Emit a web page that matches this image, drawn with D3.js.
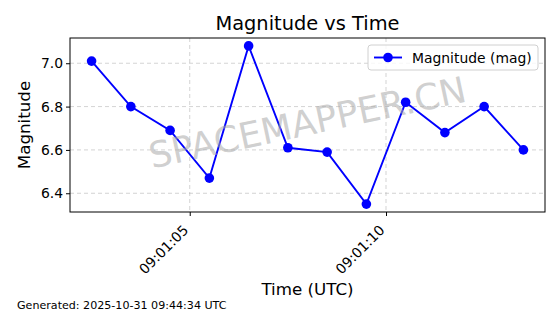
<!DOCTYPE html>
<html><head><meta charset="utf-8">
<script src="https://cdn.jsdelivr.net/npm/d3@7"></script>
<style>body{margin:0;background:#fff}svg{display:block;font-family:"DejaVu Sans",sans-serif}</style>
</head><body><div id="chart"></div>
<script>
const times = ["2025-10-31T09:01:02.5Z","2025-10-31T09:01:03.5Z","2025-10-31T09:01:04.5Z","2025-10-31T09:01:05.5Z","2025-10-31T09:01:06.5Z","2025-10-31T09:01:07.5Z","2025-10-31T09:01:08.5Z","2025-10-31T09:01:09.5Z","2025-10-31T09:01:10.5Z","2025-10-31T09:01:11.5Z","2025-10-31T09:01:12.5Z","2025-10-31T09:01:13.5Z"];
const magnitudes = [7.01, 6.80, 6.69, 6.47, 7.08, 6.61, 6.59, 6.35, 6.82, 6.68, 6.80, 6.60];
const yTicks = [6.4, 6.6, 6.8, 7.0];
const xTicks = ["2025-10-31T09:01:05Z","2025-10-31T09:01:10Z"];
const titleText = "Magnitude vs Time";
const xLabel = "Time (UTC)";
const yLabel = "Magnitude";
const legendLabel = "Magnitude (mag)";
const footer = "Generated: 2025-10-31 09:44:34 UTC";
const watermark = "SPACEMAPPER.CN";

const W = 560, H = 314;
const m = {left: 70, right: 15, top: 38, bottom: 102};
const pw = W - m.left - m.right, ph = H - m.top - m.bottom;
const data = times.map((t, i) => ({t: new Date(t), v: magnitudes[i]}));

const svg = d3.select("#chart").append("svg").attr("width", W).attr("height", H);
const g = svg.append("g").attr("transform", `translate(${m.left},${m.top})`);

const tExt = d3.extent(data, d => +d.t);
const tPad = (tExt[1] - tExt[0]) * 0.05;
const x = d3.scaleUtc().domain([tExt[0] - tPad, tExt[1] + tPad]).range([0, pw]);
const vExt = d3.extent(magnitudes);
const vPad = (vExt[1] - vExt[0]) * 0.05;
const y = d3.scaleLinear().domain([vExt[0] - vPad, vExt[1] + vPad]).range([ph, 0]);
const xT = xTicks.map(s => new Date(s));

// grid
g.append("g").selectAll("line").data(xT).join("line")
  .attr("x1", d => x(d)).attr("x2", d => x(d)).attr("y1", 0).attr("y2", ph)
  .attr("stroke", "#b0b0b0").attr("stroke-opacity", 0.7).attr("stroke-dasharray", "4,3").attr("stroke-width", 0.8);
g.append("g").selectAll("line").data(yTicks).join("line")
  .attr("y1", d => y(d)).attr("y2", d => y(d)).attr("x1", 0).attr("x2", pw)
  .attr("stroke", "#b0b0b0").attr("stroke-opacity", 0.7).attr("stroke-dasharray", "4,3").attr("stroke-width", 0.8);

// watermark
svg.append("text").attr("x", 308).attr("y", 125)
  .attr("transform", "rotate(-12,308,125)")
  .attr("text-anchor", "middle").attr("dominant-baseline", "middle")
  .attr("font-size", 36).attr("fill", "#a8a8a8").attr("fill-opacity", 0.55)
  .text(watermark);

// axes
const xAxis = g.append("g").attr("transform", `translate(0,${ph})`)
  .call(d3.axisBottom(x).tickValues(xT).tickFormat(d3.utcFormat("%H:%M:%S")).tickSizeOuter(0).tickSize(4));
xAxis.selectAll("text").attr("font-size", 13.9).attr("fill", "#000")
  .attr("text-anchor", "end").attr("x", 0).attr("y", 0).attr("dy", 0)
  .attr("transform", "translate(-1,19) rotate(-45)");
const yAxis = g.append("g")
  .call(d3.axisLeft(y).tickValues(yTicks).tickFormat(d3.format(".1f")).tickSizeOuter(0).tickSize(4));
yAxis.selectAll("text").attr("font-size", 13.9).attr("fill", "#000");
[xAxis, yAxis].forEach(a => { a.select(".domain").remove(); a.selectAll("line").attr("stroke", "#000"); a.attr("font-family", null); });

g.append("rect").attr("width", pw).attr("height", ph).attr("fill", "none").attr("stroke", "#000").attr("stroke-width", 1);

// line
g.append("path").datum(data).attr("fill", "none").attr("stroke", "#0000ff").attr("stroke-width", 1.9)
  .attr("d", d3.line().x(d => x(d.t)).y(d => y(d.v)));
g.append("g").selectAll("circle").data(data).join("circle")
  .attr("cx", d => x(d.t)).attr("cy", d => y(d.v)).attr("r", 4.8).attr("fill", "#0000ff");

// legend
const lg = svg.append("g").attr("transform", "translate(368,45)");
lg.append("rect").attr("width", 170).attr("height", 25).attr("rx", 3)
  .attr("fill", "#fff").attr("fill-opacity", 0.8).attr("stroke", "#d0d0d0");
lg.append("line").attr("x1", 6).attr("x2", 34).attr("y1", 12.5).attr("y2", 12.5).attr("stroke", "#0000ff").attr("stroke-width", 1.9);
lg.append("circle").attr("cx", 20).attr("cy", 12.5).attr("r", 4.8).attr("fill", "#0000ff");
lg.append("text").attr("x", 44).attr("y", 12.5).attr("dominant-baseline", "central").attr("font-size", 13.9).text(legendLabel);

// titles
svg.append("text").attr("x", m.left + pw / 2).attr("y", 30).attr("text-anchor", "middle").attr("font-size", 19.4).text(titleText);
svg.append("text").attr("x", m.left + pw / 2).attr("y", 295).attr("text-anchor", "middle").attr("font-size", 16.7).text(xLabel);
svg.append("text").attr("transform", `translate(30,${m.top + ph / 2}) rotate(-90)`).attr("text-anchor", "middle").attr("font-size", 16.7).text(yLabel);
svg.append("text").attr("x", 17).attr("y", 309).attr("font-size", 11.1).text(footer);
</script></body></html>
